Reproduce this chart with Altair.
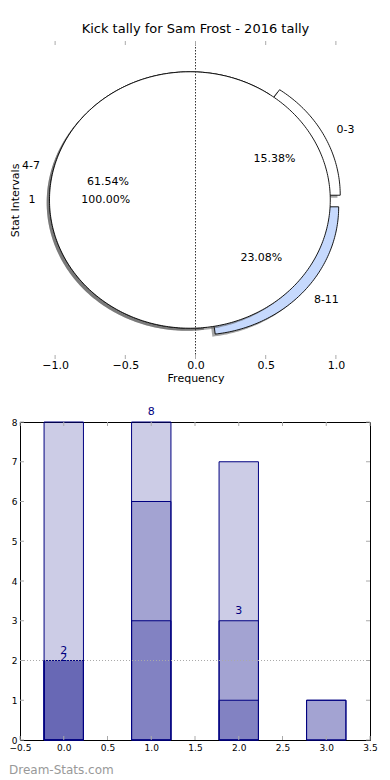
import altair as alt
import numpy as np
import pandas as pd

# ---------------- data ----------------
TITLE = "Kick tally for Sam Frost - 2016 tally"
X_TITLE = "Frequency"
Y_TITLE = "Stat Intervals"
WATERMARK = "Dream-Stats.com"

pie_labels = ["0-3", "4-7", "8-11"]
pie_counts = [2, 8, 3]
pie2_labels = ["1"]
pie2_counts = [1]
freq_ticks = [-1.0, -0.5, 0.0, 0.5, 1.0]
freq_ref = [0.0]

bar_pos = [0, 1, 2, 3]
series_1 = [8, 8, 7, 1]
series_2 = [2, 6, 3, 1]
series_3 = [2, 3, 1, None]
series_4 = [2, None, None, None]
annot_pos = [1, 2, 0]
annot_val = [8, 3, 2]
annot2_pos = [0]
annot2_val = [2]
ref_level = [2]
bar_x_ticks = [-0.5, 0.0, 0.5, 1.0, 1.5, 2.0, 2.5, 3.0, 3.5]
bar_y_ticks = [0, 1, 2, 3, 4, 5, 6, 7, 8]

# ---------------- styles ----------------
FONT = "DejaVu Sans"
PIE_FILL = ["white", "white", "#c6d9fd"]
PIE_EXPLODE = [0.08, 0.0, 0.08]
PIE2_EXPLODE = [0.0]
PIE_CENTER = (-0.04, 0.0)
SHADOW_SHIFT = (-0.02, -0.02)
BAR_HALF = 0.225
NAVY = "#000080"
TICK_GREY = "#aaaaaa"
TOP_W, TOP_H = 351, 318
BOT_W, BOT_H = 350, 318


def wedge_table(labels, counts, explode, shift=(0.0, 0.0)):
    total = float(sum(counts))
    rows, text_rows = [], []
    start = 0.0
    for lab, c, e in zip(labels, counts, explode):
        span = 360.0 * c / total
        a0, a1 = start, start + span
        start = a1
        mid = np.deg2rad((a0 + a1) / 2)
        ox = PIE_CENTER[0] + e * np.cos(mid) + shift[0]
        oy = PIE_CENTER[1] + e * np.sin(mid) + shift[1]
        angs = np.deg2rad(np.linspace(a0, a1, int(span) + 2))
        pts = [(ox + np.cos(t), oy + np.sin(t)) for t in angs]
        if span < 359.999:
            pts = [(ox, oy)] + pts + [(ox, oy)]
        for i, (px, py) in enumerate(pts):
            rows.append({"wedge": lab, "i": i, "x": px, "y": py})
        text_rows.append({
            "wedge": lab,
            "lx": ox + 1.1 * np.cos(mid), "ly": oy + 1.1 * np.sin(mid),
            "px": ox + 0.6 * np.cos(mid), "py": oy + 0.6 * np.sin(mid),
            "pct": f"{100.0 * c / total:.2f}%",
        })
    return pd.DataFrame(rows), pd.DataFrame(text_rows)


pie1_df, pie1_txt = wedge_table(pie_labels, pie_counts, PIE_EXPLODE)
pie1_sh, _ = wedge_table(pie_labels, pie_counts, PIE_EXPLODE, SHADOW_SHIFT)
pie2_df, pie2_txt = wedge_table(pie2_labels, pie2_counts, PIE2_EXPLODE)
pie2_sh, _ = wedge_table(pie2_labels, pie2_counts, PIE2_EXPLODE, SHADOW_SHIFT)
txt_df = pd.concat([pie1_txt, pie2_txt], ignore_index=True)

xs = alt.Scale(domain=[-1.25, 1.25], nice=False, zero=False)
ys = alt.Scale(domain=[-1.24, 1.24], nice=False, zero=False)

x_axis = alt.Axis(values=freq_ticks, format=".1f", ticks=False, domain=False, grid=False,
                  labelFontSize=11, labelPadding=0, labelColor="black", labelFlush=False,
                  title=X_TITLE, titleFontSize=11, titleFontWeight="normal", titlePadding=2,
                  titleColor="black")
y_axis = alt.Axis(labels=False, ticks=False, domain=False, grid=False, title=Y_TITLE,
                  titleFontSize=11, titleFontWeight="normal", titlePadding=0, titleColor="black")


def TX(f):
    return alt.X(f, scale=xs, axis=x_axis, title=X_TITLE)


def TY(f):
    return alt.Y(f, scale=ys, axis=y_axis, title=Y_TITLE)


def poly(df, mark, fill=None):
    enc = dict(x=TX("x:Q"), y=TY("y:Q"), order="i:Q", detail="wedge:N")
    if fill is not None:
        enc["fill"] = fill
    return alt.Chart(df).mark_line(**mark).encode(**enc)


shadow_mark = dict(color="#4d4d4d", fill="#4d4d4d", fillOpacity=0.5, strokeOpacity=0)
sh1 = poly(pie1_sh, shadow_mark)
p1 = poly(pie1_df, dict(color="black", strokeWidth=0.9),
          fill=alt.Fill("wedge:N", scale=alt.Scale(domain=pie_labels, range=PIE_FILL), legend=None))
sh2 = poly(pie2_sh, shadow_mark)
p2 = poly(pie2_df, dict(color="black", strokeWidth=0.9, fill="white"))

vline = alt.Chart(pd.DataFrame({"x": freq_ref})).mark_rule(
    color="#333333", strokeDash=[1.5, 1.5], strokeWidth=1
).encode(x=TX("x:Q"))

tick_df = pd.DataFrame({"x": freq_ticks})
top_ticks = alt.Chart(tick_df).mark_rule(color=TICK_GREY).encode(
    x=TX("x:Q"), y=alt.value(0), y2=alt.value(4))
bot_ticks = alt.Chart(tick_df).mark_rule(color=TICK_GREY).encode(
    x=TX("x:Q"), y=alt.value(TOP_H - 4), y2=alt.value(TOP_H))

lab_right = alt.Chart(txt_df).transform_filter("datum.lx > 0").mark_text(
    align="left", baseline="middle", fontSize=11, color="black"
).encode(x=TX("lx:Q"), y=TY("ly:Q"), text="wedge:N")
lab_left = alt.Chart(txt_df).transform_filter("datum.lx <= 0").mark_text(
    align="right", baseline="middle", fontSize=11, color="black"
).encode(x=TX("lx:Q"), y=TY("ly:Q"), text="wedge:N")
pct = alt.Chart(txt_df).mark_text(
    align="center", baseline="middle", fontSize=11, color="black"
).encode(x=TX("px:Q"), y=TY("py:Q"), text="pct:N")

top = alt.layer(sh1, p1, sh2, p2, vline, top_ticks, bot_ticks, lab_right, lab_left, pct).properties(
    width=TOP_W, height=TOP_H,
    title=alt.Title(TITLE, fontSize=13, fontWeight="normal", frame="group", anchor="middle",
                    offset=5, color="black"),
)

# ---------------- bar chart ----------------
rows = []
for s_name, vals in [("s1", series_1), ("s2", series_2), ("s3", series_3), ("s4", series_4)]:
    for p, v in zip(bar_pos, vals):
        if v is not None:
            rows.append({"series": s_name, "pos": p, "v": v})
bar_df = pd.DataFrame(rows)

bxs = alt.Scale(domain=[-0.5, 3.5], nice=False, zero=False)
bys = alt.Scale(domain=[0, 8], nice=False, zero=False)
bx_axis = alt.Axis(values=bar_x_ticks, format=".1f", ticks=False, domain=False, grid=False,
                   labelFontSize=9, labelPadding=3, labelColor="black", labelFlush=False,
                   title=None)
by_axis = alt.Axis(values=bar_y_ticks, format="d", ticks=False, domain=False, grid=False,
                   labelFontSize=9, labelPadding=3, labelColor="black", labelFlush=False,
                   title=None)


def BX(f):
    return alt.X(f, scale=bxs, axis=bx_axis, title=None)


def BY(f, **kw):
    return alt.Y(f, scale=bys, axis=by_axis, title=None, **kw)


bars = alt.Chart(bar_df).transform_calculate(
    x0=f"datum.pos - {BAR_HALF}", x1=f"datum.pos + {BAR_HALF}"
).mark_bar(fill=NAVY, fillOpacity=0.2, stroke=NAVY, strokeWidth=1).encode(
    x=BX("x0:Q"),
    x2="x1:Q",
    y=BY("v:Q", stack=None),
    y2=alt.datum(0),
    detail="series:N",
)

ref = alt.Chart(pd.DataFrame({"v": ref_level})).mark_rule(
    color="#aaaaaa", strokeDash=[1, 2], strokeWidth=1
).encode(y=BY("v:Q"))

ann = alt.Chart(pd.DataFrame({"x0": annot_pos, "v": annot_val})).mark_text(
    color=NAVY, fontSize=11, baseline="middle", dy=-10
).encode(x=BX("x0:Q"), y=BY("v:Q"), text="v:Q")
ann2 = alt.Chart(pd.DataFrame({"x0": annot2_pos, "v": annot2_val})).mark_text(
    color=NAVY, fontSize=11, baseline="middle", dy=-3
).encode(x=BX("x0:Q"), y=BY("v:Q"), text="v:Q")

bxt = pd.DataFrame({"x0": bar_x_ticks})
byt = pd.DataFrame({"v": bar_y_ticks})
bt_top = alt.Chart(bxt).mark_rule(color=TICK_GREY).encode(
    x=BX("x0:Q"), y=alt.value(0), y2=alt.value(4))
bt_bot = alt.Chart(bxt).mark_rule(color=TICK_GREY).encode(
    x=BX("x0:Q"), y=alt.value(BOT_H - 4), y2=alt.value(BOT_H))
bt_left = alt.Chart(byt).mark_rule(color=TICK_GREY).encode(
    y=BY("v:Q"), x=alt.value(0), x2=alt.value(4))
bt_right = alt.Chart(byt).mark_rule(color=TICK_GREY).encode(
    y=BY("v:Q"), x=alt.value(BOT_W - 4), x2=alt.value(BOT_W))

wm = alt.Chart(pd.DataFrame({"t": [WATERMARK]})).mark_text(
    align="left", baseline="middle", fontSize=12, color="#999999", x=-11, y=BOT_H + 30
).encode(text="t:N")

bottom = alt.layer(bars, bt_top, bt_bot, bt_left, bt_right, ref, ann, ann2, wm).properties(
    width=BOT_W, height=BOT_H,
    view=alt.ViewBackground(stroke="black", strokeWidth=1),
)

chart = alt.vconcat(top, bottom, spacing=63, bounds="flush").properties(
    padding={"left": 0, "top": 14, "right": 0, "bottom": 0}
).configure(font=FONT).configure_view(strokeWidth=0)

chart.save("out.html", embed_options={"renderer": "svg", "actions": False})
